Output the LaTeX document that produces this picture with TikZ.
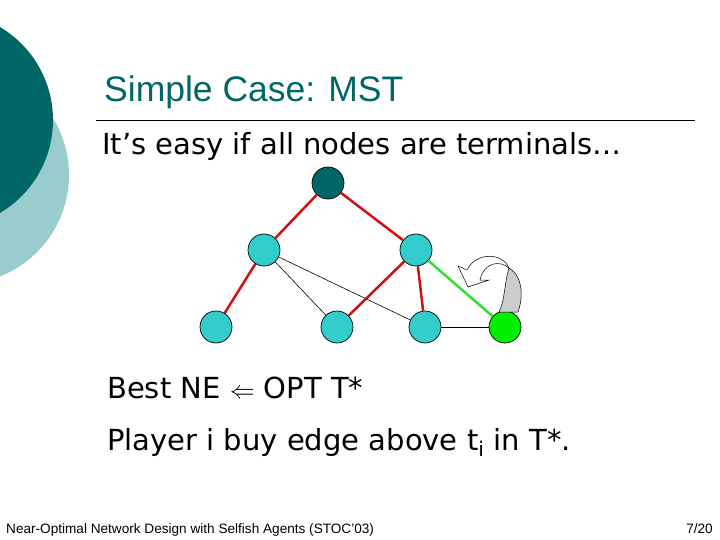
\documentclass[tikz,border=0pt]{standalone}
\usepackage{fontspec}
\setmainfont{DejaVu Sans}
\newfontfamily\titlefont{Liberation Sans}
\definecolor{darkteal}{RGB}{0,102,102}
\definecolor{lightteal}{RGB}{153,204,204}
\definecolor{nodecyan}{RGB}{51,204,204}
\definecolor{edgered}{RGB}{204,17,17}
\definecolor{edgegreen}{RGB}{51,221,51}
\definecolor{nodegreen}{RGB}{0,238,0}
\begin{document}
\begin{tikzpicture}[x=1pt,y=-1pt,
  vert/.style={circle,draw=black,fill=nodecyan,minimum size=32pt,inner sep=0pt,line width=0.7pt},
  red edge/.style={draw=edgered,line width=2.5pt},
  thin edge/.style={draw=black,line width=0.6pt},
  body/.style={anchor=base west,font=\fontsize{29}{29}\selectfont,inner sep=0pt}]
\useasboundingbox (0,0) rectangle (720,540);
\fill[lightteal] (-40,175) circle (109);
\fill[darkteal] (-55,120) circle (108);
\node[anchor=base west,font=\titlefont\fontsize{35.5}{35.5}\selectfont,text=darkteal,inner sep=0pt] (title) at (104,102) {Simple Case: MST};
\draw[line width=0.6pt] (96,120) coordinate (l1) -- (695,120) coordinate (l2);
\node[body] (t1) at (102,155) {It’s easy if all nodes are terminals…};
\node[vert,fill=darkteal] (r) at (328,183) {};
\node[vert] (a) at (264,250) {};
\node[vert] (b) at (416,250) {};
\node[vert] (c) at (216,327) {};
\node[vert] (d) at (337,327) {};
\node[vert] (e) at (425,327) {};
\node[vert,fill=nodegreen] (g) at (505,327) {};
\draw[thin edge] (a) -- (d);
\draw[thin edge] (a) -- (e);
\draw[thin edge] (e) -- (g);
\draw[red edge] (r) -- (a);
\draw[red edge] (r) -- (b);
\draw[red edge] (a) -- (c);
\draw[red edge] (b) -- (d);
\draw[red edge] (b) -- (e);
\draw[draw=edgegreen,line width=2.5pt] (b) -- (g);
% curved block arrow
\filldraw[fill=black!20,draw=black,line width=0.5pt] (499,312) .. controls (505,300) and (504,285) .. (509,268)
  .. controls (520,274) and (525,292) .. (518,312) -- cycle;
\filldraw[fill=white,draw=black,line width=0.5pt] (509,268) .. controls (500,260) and (484,262) .. (480,280)
  -- (489,280) -- (468,287) -- (458,266) -- (467,270)
  .. controls (476,252) and (502,252) .. (509,268) -- cycle;
\node[body] (t2) at (107,398) {Best NE {\fontsize{36}{36}\selectfont$\Leftarrow$} OPT T*};
\node[body] (t3) at (107,450) {Player i buy edge above t\textsubscript{i} in T*.};
\node[anchor=base west,font=\titlefont\fontsize{13.6}{13.6}\selectfont,inner sep=0pt] (f1) at (6,533) {Near-Optimal Network Design with Selfish Agents (STOC’03)};
\node[anchor=base east,font=\titlefont\fontsize{13.6}{13.6}\selectfont,inner sep=0pt] (f2) at (713,533) {7/20};
\end{tikzpicture}
\end{document}
